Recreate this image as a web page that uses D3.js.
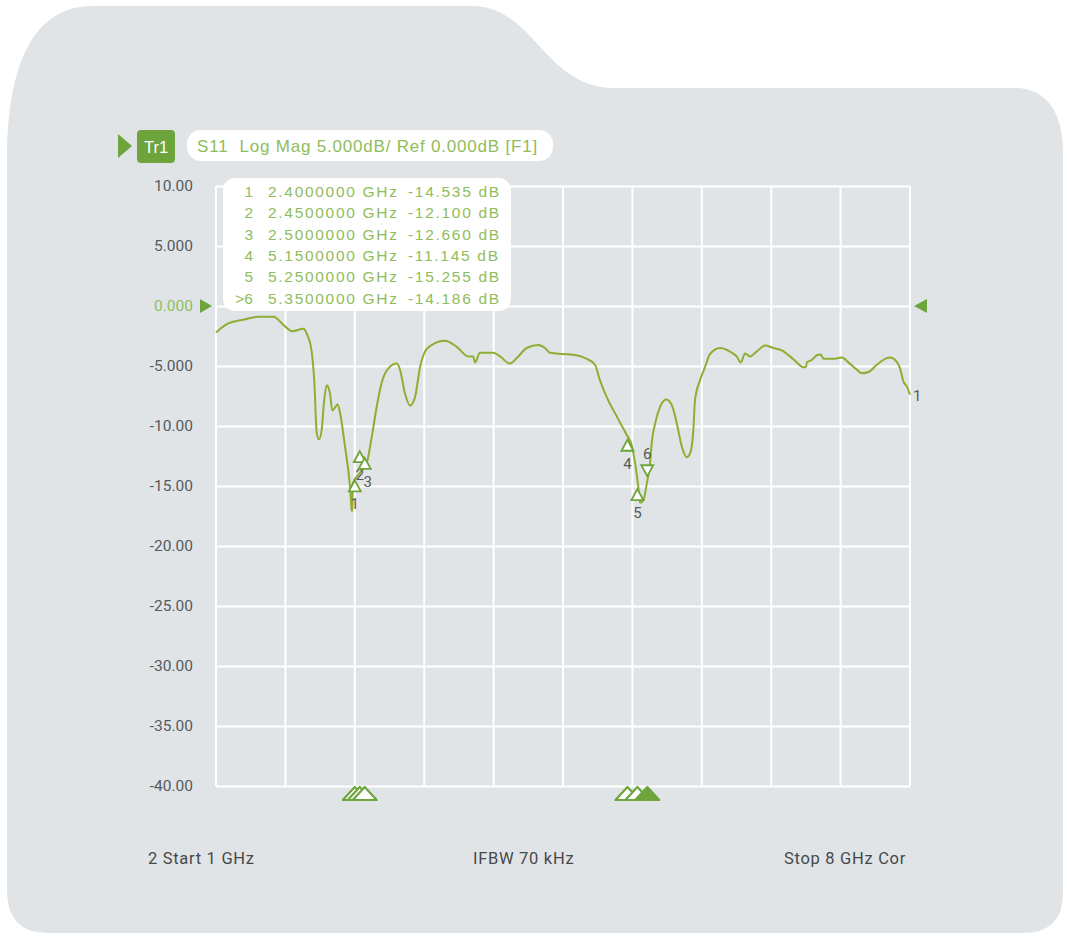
<!DOCTYPE html>
<html lang="en">
<head>
    <meta charset="UTF-8">
    <title>S11 Log Mag</title>
    <script src="https://d3js.org/d3.v7.min.js"></script>
    <style>
        body {
            margin: 0;
            background-color: #ffffff;
        }
        svg text {
            font-family: "Liberation Sans", Arial, sans-serif;
        }
        .ylabel, .footer, .mlabel {
            font-family: Roboto, "Liberation Sans", sans-serif;
        }
    </style>
</head>
<body>
    <div id="chart"></div>

    <script>
        // Dati della traccia S11 (GHz, dB)
        const freqGHz = [
            1.000, 1.124, 1.259, 1.427, 1.578, 1.696, 1.770, 1.881, 1.915, 1.965,
            1.992, 2.016, 2.039, 2.066, 2.092, 2.117, 2.150, 2.173, 2.228, 2.251,
            2.301, 2.352, 2.369, 2.375, 2.379, 2.452, 2.520, 2.571, 2.621, 2.671,
            2.738, 2.823, 2.856, 2.906, 2.957, 3.007, 3.058, 3.108, 3.176, 3.310,
            3.428, 3.545, 3.595, 3.612, 3.663, 3.797, 3.865, 3.965, 4.049, 4.134,
            4.251, 4.318, 4.369, 4.503, 4.638, 4.739, 4.823, 4.873, 4.941, 5.042,
            5.143, 5.193, 5.227, 5.260, 5.277, 5.311, 5.345, 5.378, 5.395, 5.429,
            5.479, 5.540, 5.597, 5.648, 5.698, 5.748, 5.781, 5.815, 5.832, 5.882,
            5.932, 5.983, 6.084, 6.185, 6.252, 6.293, 6.336, 6.386, 6.454, 6.538,
            6.622, 6.706, 6.790, 6.858, 6.925, 6.952, 6.959, 7.009, 7.060, 7.100,
            7.127, 7.228, 7.312, 7.379, 7.463, 7.514, 7.581, 7.665, 7.749, 7.799,
            7.860, 7.900, 7.934, 7.968, 8.000
        ];
        const s11dB = [
            -2.2, -1.45, -1.17, -0.9, -0.9, -1.7, -2.1, -1.9, -2.3, -3.8,
            -6.4, -10.6, -11.1, -10.3, -7.8, -6.6, -7.3, -8.7, -8.2, -8.9,
            -11.7, -15.1, -17.0, -17.1, -14.8, -13.9, -13.1, -10.9, -8.4, -6.4,
            -5.2, -4.8, -5.3, -7.3, -8.3, -7.6, -5.1, -3.8, -3.25, -2.9,
            -3.4, -4.2, -4.2, -4.7, -3.9, -3.9, -4.2, -4.8, -4.2, -3.5,
            -3.25, -3.5, -3.9, -4.0, -4.1, -4.4, -4.9, -6.2, -7.6, -9.2,
            -10.75, -11.6, -13.1, -15.1, -16.4, -16.2, -14.8, -13.1, -11.4, -9.8,
            -8.4, -7.8, -8.25, -9.8, -11.7, -12.6, -12.3, -10.3, -7.8, -6.2,
            -5.1, -4.0, -3.5, -3.8, -4.2, -4.7, -3.95, -4.2, -3.8, -3.3,
            -3.5, -3.7, -4.2, -4.7, -5.1, -5.1, -4.7, -4.5, -4.1, -4.05,
            -4.4, -4.4, -4.3, -4.7, -5.3, -5.6, -5.5, -4.9, -4.4, -4.3,
            -4.6, -5.2, -6.3, -6.7, -7.4
        ];

        // Marker
        const markerIds = ["1", "2", "3", "4", "5", "6"];
        const markerFreq = [2.40, 2.45, 2.50, 5.15, 5.25, 5.35];
        const markerDB = [-14.535, -12.100, -12.660, -11.145, -15.255, -14.186];
        const markerFreqText = ["2.4000000 GHz", "2.4500000 GHz", "2.5000000 GHz",
                                "5.1500000 GHz", "5.2500000 GHz", "5.3500000 GHz"];
        const markerDBText = ["-14.535 dB", "-12.100 dB", "-12.660 dB",
                              "-11.145 dB", "-15.255 dB", "-14.186 dB"];
        const activeMarker = "6";

        // Assi
        const xGrid = [1.0, 1.7, 2.4, 3.1, 3.8, 4.5, 5.2, 5.9, 6.6, 7.3, 8.0];
        const yTicks = [10, 5, 0, -5, -10, -15, -20, -25, -30, -35, -40];
        const yTickLabels = ["10.00", "5.000", "0.000", "-5.000", "-10.00", "-15.00",
                             "-20.00", "-25.00", "-30.00", "-35.00", "-40.00"];

        const width = 1067;
        const height = 936;
        const green = "#8dae33";
        const darkGreen = "#6ea43c";
        const textGreen = "#8fbd5c";
        const gray = "#555a5c";
        const panel = "#e1e4e6";

        const x = d3.scaleLinear().domain([1, 8]).range([216, 910]);
        const y = d3.scaleLinear().domain([-40, 10]).range([786, 186]);

        const svg = d3.select("#chart")
            .append("svg")
            .attr("width", width)
            .attr("height", height);

        // Sfondo a cartella
        svg.append("path")
            .attr("d", "M7,890 L7,160 C7,60 36,6 92,6 L472,6 C534,6 545,88 614,88 " +
                       "L1015,88 C1046,88 1063,112 1063,152 L1063,893 Q1063,933 1023,933 " +
                       "L47,933 Q7,933 7,890 Z")
            .attr("fill", panel);

        // Griglia
        svg.append("g")
            .selectAll("line")
            .data(xGrid)
            .enter()
            .append("line")
            .attr("x1", d => x(d))
            .attr("x2", d => x(d))
            .attr("y1", y(10))
            .attr("y2", y(-40))
            .attr("stroke", "#ffffff")
            .attr("stroke-width", 2);

        const yAxis = svg.append("g")
            .attr("transform", `translate(${x(1)},0)`)
            .call(d3.axisLeft(y)
                .tickValues(yTicks)
                .tickFormat((d, i) => yTickLabels[i])
                .tickSize(-(x(8) - x(1)))
                .tickPadding(23));
        yAxis.select(".domain").remove();
        yAxis.selectAll(".tick line")
            .attr("stroke", "#ffffff")
            .attr("stroke-width", 2);
        yAxis.selectAll(".tick text")
            .attr("class", "ylabel")
            .attr("font-size", "15.5px")
            .attr("fill", d => d === 0 ? textGreen : gray);

        // Frecce di riferimento
        svg.append("path")
            .attr("d", `M200,${y(0) - 7} L212,${y(0)} L200,${y(0) + 7} Z`)
            .attr("fill", darkGreen);
        svg.append("path")
            .attr("d", `M927,${y(0) - 7} L914,${y(0)} L927,${y(0) + 7} Z`)
            .attr("fill", darkGreen);

        // Traccia
        const trace = freqGHz.map((f, i) => [f, s11dB[i]]);
        const line = d3.line()
            .x(d => x(d[0]))
            .y(d => y(d[1]))
            .curve(d3.curveMonotoneX);
        svg.append("path")
            .datum(trace)
            .attr("d", line)
            .attr("fill", "none")
            .attr("stroke", green)
            .attr("stroke-width", 2);

        svg.append("text")
            .attr("class", "mlabel")
            .attr("x", x(8) + 3)
            .attr("y", y(s11dB[s11dB.length - 1]) + 6)
            .attr("font-size", "15px")
            .attr("fill", gray)
            .text("1");

        // Marker sulla traccia
        const mk = svg.append("g");
        markerIds.forEach((id, i) => {
            const mx = x(markerFreq[i]);
            const my = y(markerDB[i]);
            if (id === activeMarker) {
                mk.append("path")
                    .attr("d", `M${mx - 6},${my - 11} L${mx + 6},${my - 11} L${mx},${my} Z`)
                    .attr("fill", "#ffffff")
                    .attr("stroke", darkGreen)
                    .attr("stroke-width", 1.8);
                mk.append("text")
                    .attr("class", "mlabel")
                    .attr("x", mx)
                    .attr("y", my - 17)
                    .attr("text-anchor", "middle")
                    .attr("font-size", "15px")
                    .attr("fill", gray)
                    .text(id);
            } else {
                mk.append("path")
                    .attr("d", `M${mx},${my} L${mx + 6},${my + 11} L${mx - 6},${my + 11} Z`)
                    .attr("fill", "#ffffff")
                    .attr("stroke", darkGreen)
                    .attr("stroke-width", 1.8);
                mk.append("text")
                    .attr("class", "mlabel")
                    .attr("x", mx + (id === "3" ? 3 : 0))
                    .attr("y", my + 29)
                    .attr("text-anchor", "middle")
                    .attr("font-size", "15px")
                    .attr("fill", gray)
                    .text(id);
            }
        });

        // Marker sull'asse inferiore
        const bm = svg.append("g");
        markerIds.forEach((id, i) => {
            const mx = x(markerFreq[i]);
            bm.append("path")
                .attr("d", `M${mx},${y(-40) + 1} L${mx + 12},${y(-40) + 14} L${mx - 12},${y(-40) + 14} Z`)
                .attr("fill", id === activeMarker ? darkGreen : "#ffffff")
                .attr("stroke", darkGreen)
                .attr("stroke-width", 2.2)
                .attr("stroke-linejoin", "round");
        });

        // Intestazione
        svg.append("path")
            .attr("d", "M118,134 L132,146 L118,158 Z")
            .attr("fill", darkGreen);
        svg.append("rect")
            .attr("x", 137).attr("y", 130)
            .attr("width", 38).attr("height", 33)
            .attr("rx", 4)
            .attr("fill", darkGreen);
        svg.append("text")
            .attr("x", 156).attr("y", 153)
            .attr("text-anchor", "middle")
            .attr("font-size", "16.5px")
            .attr("fill", "#ffffff")
            .text("Tr1");
        svg.append("rect")
            .attr("x", 187).attr("y", 130)
            .attr("width", 366).attr("height", 31)
            .attr("rx", 14)
            .attr("fill", "#ffffff");
        svg.append("text")
            .attr("x", 197).attr("y", 152)
            .attr("font-size", "17px")
            .attr("letter-spacing", "0.8px")
            .attr("fill", textGreen)
            .attr("xml:space", "preserve")
            .text("S11  Log Mag 5.000dB/ Ref 0.000dB [F1]");

        // Tabella marker
        svg.append("rect")
            .attr("x", 223).attr("y", 178)
            .attr("width", 288).attr("height", 133)
            .attr("rx", 12)
            .attr("fill", "#ffffff");
        const tbl = svg.append("g")
            .attr("font-size", "15.5px")
            .attr("fill", textGreen)
            .attr("letter-spacing", "1.7px");
        markerIds.forEach((id, i) => {
            const ty = 197 + i * 21.3;
            tbl.append("text")
                .attr("x", 253).attr("y", ty)
                .attr("text-anchor", "end")
                .attr("letter-spacing", "0px")
                .text(id === activeMarker ? ">" + id : id);
            tbl.append("text")
                .attr("x", 268).attr("y", ty)
                .text(markerFreqText[i]);
            tbl.append("text")
                .attr("x", 408).attr("y", ty)
                .text(markerDBText[i]);
        });

        // Piè di pagina
        const foot = svg.append("g")
            .attr("font-size", "16.5px")
            .attr("letter-spacing", "0.7px")
            .attr("fill", "#45494b");
        foot.append("text").attr("class", "footer").attr("x", 148).attr("y", 864).text("2 Start 1 GHz");
        foot.append("text").attr("class", "footer").attr("x", 473).attr("y", 864).text("IFBW 70 kHz");
        foot.append("text").attr("class", "footer").attr("x", 906).attr("y", 864)
            .attr("text-anchor", "end").text("Stop 8 GHz Cor");
    </script>
</body>
</html>
